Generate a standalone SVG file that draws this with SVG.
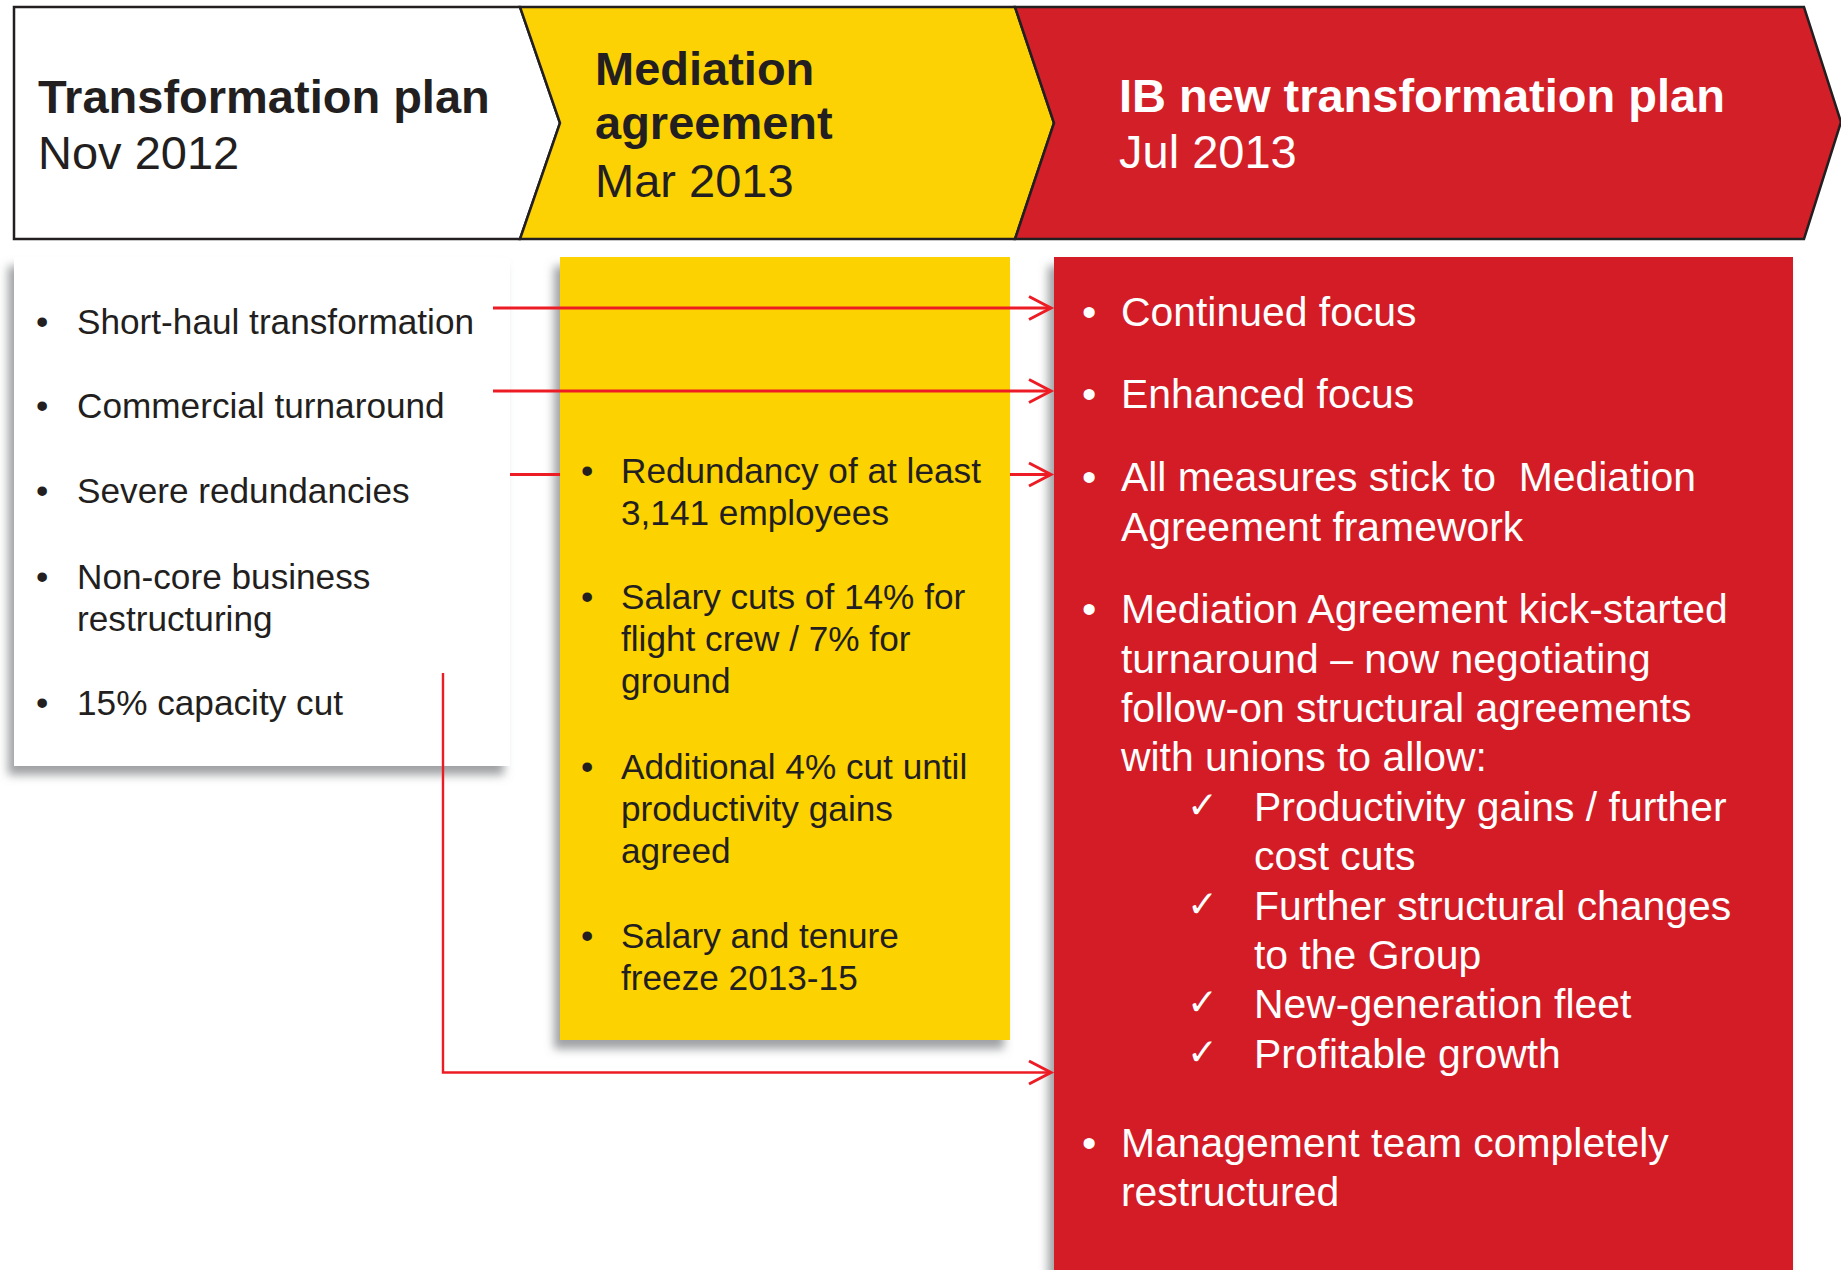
<svg xmlns="http://www.w3.org/2000/svg" width="1841" height="1270" viewBox="0 0 1841 1270">
  <style>
    .hd { font-family: "Liberation Sans", Arial, sans-serif; font-size: 47px; }
    .b { font-weight: bold; }
    .dark { fill: #231F20; }
    .wht { fill: #FFFFFF; }
    .s35 { font-family: "Liberation Sans", Arial, sans-serif; font-size: 35.2px; fill: #231F20; }
    .s40 { font-family: "Liberation Sans", Arial, sans-serif; font-size: 40.9px; fill: #FFFFFF; }
    .chk { font-family: "DejaVu Sans", sans-serif; font-size: 37px; fill: #FFFFFF; }
    .chev { stroke: #231F20; stroke-width: 2.5; stroke-linejoin: miter; }
    .link { fill: none; stroke: #ED1C24; stroke-width: 3.2; }
    .thin { stroke-width: 2.4; }
  </style>
  <defs>
    <filter id="shadow" x="-10%" y="-5%" width="120%" height="115%">
      <feGaussianBlur in="SourceAlpha" stdDeviation="5"/>
      <feOffset dx="-6" dy="9" result="blur"/>
      <feFlood flood-color="#7F8285" flood-opacity="0.75"/>
      <feComposite in2="blur" operator="in"/>
      <feMerge>
        <feMergeNode/>
        <feMergeNode in="SourceGraphic"/>
      </feMerge>
    </filter>
    <marker id="arrow" viewBox="-26 -15 30 30" refX="0" refY="0" markerWidth="30" markerHeight="30" markerUnits="userSpaceOnUse" orient="auto">
      <path d="M-22,-11.5 L0,0 L-22,11.5" fill="none" stroke="#ED1C24" stroke-width="3"/>
    </marker>
  </defs>

  <rect width="1841" height="1270" fill="#FFFFFF"/>

  <!-- Header chevrons -->
  <g id="header-nov2012">
    <polygon class="chev" fill="#FFFFFF" points="14,7 520,7 560,123 520,239 14,239"/>
    <text class="hd b dark" x="38" y="113">Transformation plan</text>
    <text class="hd dark" x="38" y="169">Nov 2012</text>
  </g>
  <g id="header-mar2013">
    <polygon class="chev" fill="#FCD205" points="520,7 1015,7 1054,123 1015,239 520,239 560,123"/>
    <text class="hd b dark" x="595" y="85">Mediation</text>
    <text class="hd b dark" x="595" y="139">agreement</text>
    <text class="hd dark" x="595" y="197">Mar 2013</text>
  </g>
  <g id="header-jul2013">
    <polygon class="chev" fill="#D31F27" points="1015,7 1804,7 1841,122 1804,239 1015,239 1054,123"/>
    <text class="hd b wht" x="1119" y="112">IB new transformation plan</text>
    <text class="hd wht" x="1119" y="168">Jul 2013</text>
  </g>

  <!-- Column: original plan -->
  <g id="plan-nov2012">
    <rect x="14" y="257" width="496" height="509" fill="#FFFFFF" filter="url(#shadow)"/>
    <g class="s35">
      <text x="36" y="334">•</text><text x="77" y="334">Short-haul transformation</text>
      <text x="36" y="418">•</text><text x="77" y="418">Commercial turnaround</text>
      <text x="36" y="503">•</text><text x="77" y="503">Severe redundancies</text>
      <text x="36" y="589">•</text><text x="77" y="589">Non-core business</text>
      <text x="77" y="631">restructuring</text>
      <text x="36" y="715">•</text><text x="77" y="715">15% capacity cut</text>
    </g>
  </g>

  <!-- Column: mediation agreement -->
  <g id="mediation-mar2013">
    <rect x="560" y="257" width="450" height="783" fill="#FCD205" filter="url(#shadow)"/>
    <g class="s35">
      <text x="581" y="483">•</text><text x="621" y="483">Redundancy of at least</text>
      <text x="621" y="525">3,141 employees</text>
      <text x="581" y="609">•</text><text x="621" y="609">Salary cuts of 14% for</text>
      <text x="621" y="651">flight crew / 7% for</text>
      <text x="621" y="693">ground</text>
      <text x="581" y="779">•</text><text x="621" y="779">Additional 4% cut until</text>
      <text x="621" y="821">productivity gains</text>
      <text x="621" y="863">agreed</text>
      <text x="581" y="948">•</text><text x="621" y="948">Salary and tenure</text>
      <text x="621" y="990">freeze 2013-15</text>
    </g>
  </g>

  <!-- Column: new transformation plan -->
  <g id="plan-jul2013">
    <rect x="1054" y="257" width="739" height="1030" fill="#D31F27" filter="url(#shadow)"/>
    <g class="s40">
      <text x="1082" y="326">•</text><text x="1121" y="326">Continued focus</text>
      <text x="1082" y="408">•</text><text x="1121" y="408">Enhanced focus</text>
      <text x="1082" y="491">•</text><text x="1121" y="491" xml:space="preserve">All measures stick to  Mediation</text>
      <text x="1121" y="541">Agreement framework</text>
      <text x="1082" y="623">•</text><text x="1121" y="623">Mediation Agreement kick-started</text>
      <text x="1121" y="673">turnaround – now negotiating</text>
      <text x="1121" y="722">follow-on structural agreements</text>
      <text x="1121" y="771">with unions to allow:</text>
      <text x="1254" y="821">Productivity gains / further</text>
      <text x="1254" y="870">cost cuts</text>
      <text x="1254" y="920">Further structural changes</text>
      <text x="1254" y="969">to the Group</text>
      <text x="1254" y="1018">New-generation fleet</text>
      <text x="1254" y="1068">Profitable growth</text>
      <text x="1082" y="1157">•</text><text x="1121" y="1157">Management team completely</text>
      <text x="1121" y="1206">restructured</text>
    </g>
    <g class="chk">
      <text x="1187" y="818">✓</text>
      <text x="1187" y="917">✓</text>
      <text x="1187" y="1015">✓</text>
      <text x="1187" y="1065">✓</text>
    </g>
  </g>

  <!-- Connectors -->
  <g id="connectors">
    <path class="link" d="M493,308 H1051" marker-end="url(#arrow)"/>
    <path class="link" d="M493,391 H1051" marker-end="url(#arrow)"/>
    <path class="link" d="M510,474.5 H560 M1010,474.5 H1051" marker-end="url(#arrow)"/>
    <path class="link thin" d="M443,673 V1072.5 H1051" marker-end="url(#arrow)"/>
  </g>
</svg>
